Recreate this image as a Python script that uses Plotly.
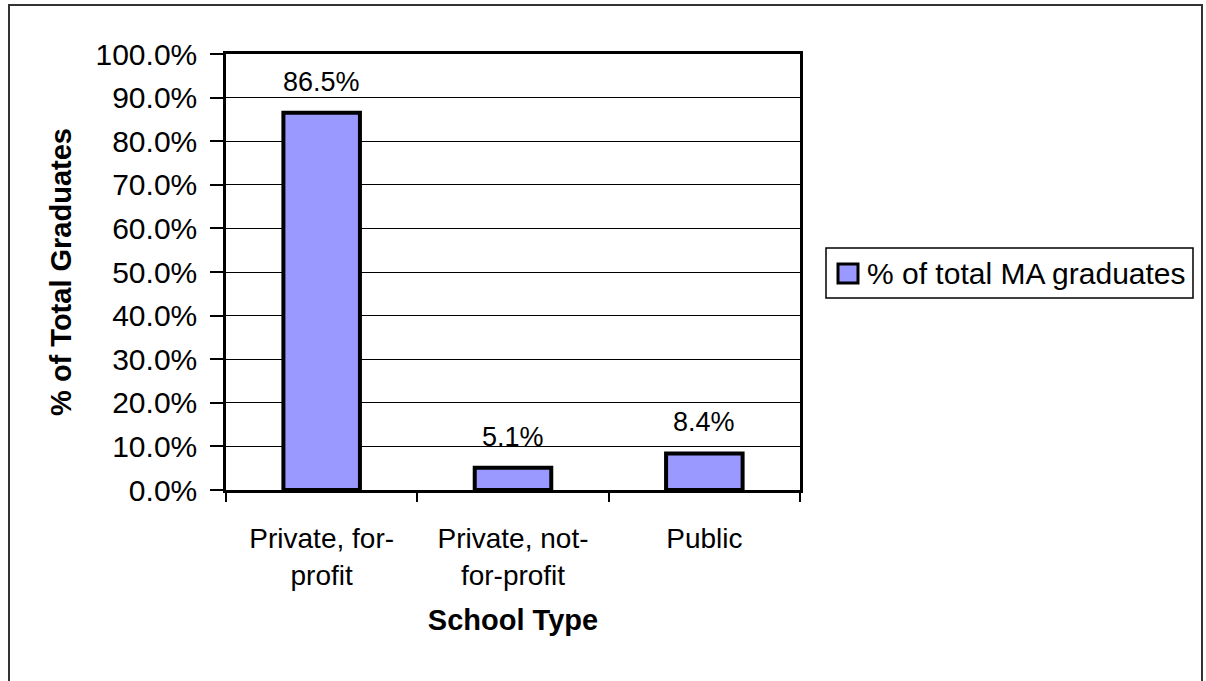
import plotly.graph_objects as go

# ---- data ----
categories = ["Private, for-<br>profit", "Private, not-<br>for-profit", "Public"]
values = [86.5, 5.1, 8.4]
value_labels = ["86.5%", "5.1%", "8.4%"]
series_name = "% of total MA graduates"
y_title = "% of Total Graduates"
x_title = "School Type"

FONT = "Liberation Sans, Arial, sans-serif"
BAR_COLOR = "#9999FF"

W, H = 1206, 681
L, R, T, B = 226, 800, 54, 490  # plot area pixel box


def px2x(px):
    return (px - L) / (R - L)


def py2y(py):
    return (B - py) / (B - T)


fig = go.Figure()
fig.add_trace(go.Bar(
    x=categories,
    y=values,
    name=series_name,
    width=0.4,
    marker=dict(color=BAR_COLOR, line=dict(color="black", width=4)),
    showlegend=False,
))

# data labels above bars
for c, v, t in zip(categories, values, value_labels):
    fig.add_annotation(x=c, y=v, text=t, showarrow=False, yshift=31,
                       yanchor="middle", xanchor="center",
                       font=dict(family=FONT, size=27, color="black"))

shapes = []
# outer chart border
shapes.append(dict(type="rect", xref="paper", yref="paper",
                   x0=px2x(9), x1=px2x(1202), y0=py2y(5), y1=py2y(700),
                   line=dict(color="#333333", width=2), fillcolor="rgba(0,0,0,0)",
                   layer="below"))
# legend box
shapes.append(dict(type="rect", xref="paper", yref="paper",
                   x0=px2x(826), x1=px2x(1193), y0=py2y(248), y1=py2y(298),
                   line=dict(color="black", width=1.5), fillcolor="white"))
# legend symbol
shapes.append(dict(type="rect", xref="paper", yref="paper",
                   x0=px2x(838), x1=px2x(858), y0=py2y(264), y1=py2y(283),
                   line=dict(color="black", width=3), fillcolor=BAR_COLOR))
fig.add_annotation(xref="paper", yref="paper", x=px2x(865), y=py2y(273),
                   text=series_name, showarrow=False, xanchor="left", yanchor="middle",
                   font=dict(family=FONT, size=30, color="black"))

fig.update_layout(
    width=W, height=H,
    margin=dict(l=L, r=W - R, t=T, b=H - B, pad=0),
    paper_bgcolor="white", plot_bgcolor="white",
    font=dict(family=FONT, size=28, color="black"),
    shapes=shapes,
    showlegend=False,
    bargap=0.6,
)

fig.update_yaxes(
    range=[0, 100], dtick=10, tick0=0,
    tickformat=".1f", ticksuffix="%",
    showgrid=True, gridcolor="black", gridwidth=1,
    showline=True, linecolor="black", linewidth=2.5, mirror=True,
    ticks="outside", ticklen=13, tickwidth=1.5, tickcolor="black",
    ticklabelstandoff=7,
    tickfont=dict(family=FONT, size=30, color="black"),
    zeroline=False,
    title=dict(text=y_title, font=dict(family=FONT, size=29, color="black", weight="bold"),
               standoff=16),
)
fig.update_xaxes(
    tickson="boundaries", ticks="outside", ticklen=9, tickwidth=1.5, tickcolor="black",
    showline=True, linecolor="black", linewidth=2.5, mirror=True,
    showgrid=False,
    ticklabelstandoff=22,
    tickfont=dict(family=FONT, size=28, color="black"),
    title=dict(text=x_title, font=dict(family=FONT, size=29, color="black", weight="bold"),
               standoff=20),
)

fig.write_html("out.html")
